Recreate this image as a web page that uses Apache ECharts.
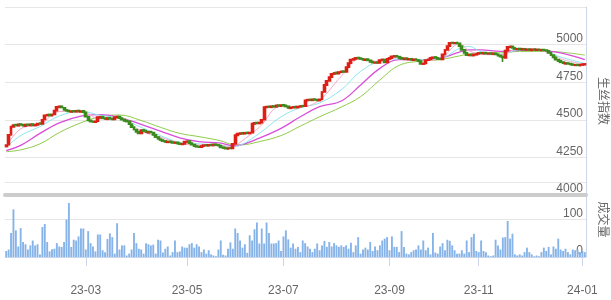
<!DOCTYPE html>
<html><head><meta charset="utf-8">
<script src="https://cdn.jsdelivr.net/npm/echarts/dist/echarts.min.js"></script>
<style>html,body{margin:0;padding:0;background:#fff}#c{width:611px;height:300px}</style>
</head><body><div id="c"></div>
<script>
// trading days per month
const tradingMonths = ['2023-01','2023-02','2023-03','2023-04','2023-05','2023-06','2023-07','2023-08','2023-09','2023-10','2023-11','2023-12','2024-01'];
const tradingDayLists = [
 '6 9 10 11 12 13 16 17 18 19 20 30 31',
 '1 2 3 6 7 8 9 10 13 14 15 16 17 20 21 22 23 24 27 28',
 '1 2 3 6 7 8 9 10 13 14 15 16 17 20 21 22 23 24 27 28 29 30 31',
 '3 4 6 7 10 11 12 13 14 17 18 19 20 21 24 25 26 27 28',
 '4 5 8 9 10 11 12 15 16 17 18 19 22 23 24 25 26 29 30 31',
 '1 2 5 6 7 8 9 12 13 14 15 16 19 20 21 26 27 28 29 30',
 '3 4 5 6 7 10 11 12 13 14 17 18 19 20 21 24 25 26 27 28 31',
 '1 2 3 4 7 8 9 10 11 14 15 16 17 18 21 22 23 24 25 28 29 30 31',
 '1 4 5 6 7 8 11 12 13 14 15 18 19 20 21 22 25 26 27 28',
 '9 10 11 12 13 16 17 18 19 20 23 24 25 26 27 30 31',
 '1 2 3 6 7 8 9 10 13 14 15 16 17 20 21 22 23 24 27 28 29 30',
 '1 4 5 6 7 8 11 12 13 14 15 18 19 20 21 22 25 26 27 28 29',
 '2 3'
];
const categories = [];
tradingMonths.forEach((m, k) => tradingDayLists[k].split(' ').forEach(d => categories.push(m + '-' + (d.length < 2 ? '0' + d : d))));

const opens = [
4322,4335,4400,4452,4468,4460,4472,4468,4458,4470,
4463,4472,4462,4466,4478,4472,4502,4528,4536,4527,
4535,4560,4583,4590,4580,4566,4562,4552,4560,4553,
4562,4552,4560,4550,4520,4496,4490,4484,4490,4512,
4522,4512,4503,4514,4508,4502,4515,4522,4512,4502,
4494,4490,4470,4452,4436,4422,4410,4433,4428,4414,
4422,4416,4400,4386,4372,4366,4360,4350,4357,4352,
4345,4350,4344,4336,4340,4352,4358,4346,4336,4326,
4322,4318,4325,4334,4327,4336,4329,4338,4333,4328,
4318,4313,4306,4314,4310,4340,4396,4405,4414,4407,
4416,4409,4415,4472,4482,4475,4480,4500,4582,4590,
4583,4592,4586,4598,4590,4600,4596,4590,4576,4580,
4588,4581,4586,4594,4590,4628,4636,4629,4638,4634,
4628,4636,4685,4730,4758,4784,4804,4815,4806,4816,
4824,4818,4850,4876,4898,4904,4914,4910,4906,4896,
4904,4896,4886,4878,4884,4878,4896,4900,4882,4904,
4910,4920,4926,4920,4912,4902,4910,4900,4906,4896,
4904,4898,4890,4870,4874,4896,4902,4910,4918,4912,
4906,4902,4934,4964,4990,5014,5008,5014,5008,4990,
4965,4946,4928,4934,4927,4932,4938,4946,4940,4947,
4938,4944,4936,4942,4936,4928,4922,4912,4960,4982,
4988,4978,4968,4974,4966,4972,4964,4970,4962,4970,
4963,4969,4962,4967,4964,4958,4946,4930,4916,4900,
4892,4884,4872,4878,4874,4870,4862,4867,4860,4864,
4866];
const closes = [
4332,4400,4455,4465,4462,4470,4466,4460,4468,4465,
4470,4463,4468,4475,4472,4500,4530,4534,4528,4535,
4562,4586,4590,4582,4565,4560,4555,4558,4554,4560,
4556,4558,4550,4520,4495,4488,4485,4490,4518,4520,
4510,4505,4512,4506,4502,4518,4522,4510,4500,4492,
4488,4470,4450,4435,4420,4410,4432,4425,4418,4420,
4415,4400,4385,4372,4365,4358,4352,4355,4350,4346,
4350,4342,4338,4340,4356,4358,4345,4335,4325,4320,
4318,4326,4332,4328,4334,4330,4336,4332,4328,4316,
4312,4308,4312,4310,4340,4398,4408,4412,4408,4414,
4410,4415,4475,4480,4476,4482,4500,4585,4588,4584,
4590,4586,4596,4592,4598,4594,4588,4578,4582,4586,
4582,4588,4592,4590,4630,4634,4630,4636,4632,4628,
4636,4685,4732,4760,4785,4806,4812,4808,4818,4822,
4818,4850,4878,4900,4905,4912,4908,4904,4898,4902,
4895,4885,4880,4882,4878,4898,4902,4882,4905,4912,
4922,4925,4920,4910,4905,4908,4902,4905,4898,4902,
4898,4890,4872,4875,4898,4902,4912,4916,4912,4904,
4902,4935,4965,4990,5012,5010,5012,5008,4990,4965,
4945,4930,4933,4928,4934,4938,4945,4942,4946,4940,
4942,4938,4942,4935,4926,4920,4915,4960,4985,4988,
4978,4970,4972,4968,4972,4966,4968,4964,4968,4965,
4968,4964,4966,4962,4958,4945,4930,4915,4900,4890,
4882,4876,4878,4872,4868,4864,4866,4862,4866,4870,
4872];
// visible wicks: [index, low, high]; other bars show no wick beyond the body
const wicks = [[206, 4885, 4922], [1, 4330, 4402], [184, 4988, 5016]];

const volumes = [
16,20,64,127,71,28,77,40,34,20,
31,44,31,34,7,80,88,40,15,21,
22,37,28,27,40,100,144,27,46,44,
55,76,76,20,69,37,28,15,60,60,
18,13,48,63,53,9,90,20,31,31,
4,9,20,64,37,22,20,9,37,34,
31,33,9,46,44,12,22,28,4,13,
44,13,15,28,25,25,34,37,25,34,
28,13,20,9,18,7,4,2,20,44,
6,4,22,39,22,76,64,44,25,34,
11,58,44,74,92,36,76,36,92,64,
36,36,37,44,16,55,71,47,25,36,
22,27,13,44,37,28,22,13,22,36,
18,31,43,27,40,28,37,31,27,31,
27,31,22,38,13,31,53,9,20,25,
20,40,16,28,18,31,44,49,53,18,
55,27,27,13,69,27,9,7,13,18,
20,31,20,44,18,25,7,64,12,9,
28,37,18,46,43,31,18,9,9,18,
9,44,13,53,62,16,13,44,16,13,
4,2,4,46,31,20,52,53,96,49,
62,7,4,7,4,13,25,13,7,2,
4,2,13,25,16,27,7,28,22,49,
20,16,22,13,7,20,18,20,13,16,
13];

// moving-average lines at these category positions
const maPositions = [0,6,14,22,31,39,47,56,64,72,80,89,94,97,105,114,122,130,139,147,155,163,172,180,188,192,197,205,213,221,230,240];
const ma5  = [4320,4440,4468,4555,4557,4505,4512,4425,4385,4345,4332,4328,4318,4350,4450,4590,4586,4632,4790,4905,4888,4918,4893,4908,5005,4960,4935,4932,4975,4966,4905,4868];
const ma10 = [4318,4395,4455,4525,4556,4530,4510,4450,4395,4350,4340,4330,4322,4330,4410,4520,4580,4612,4700,4822,4890,4905,4900,4908,4975,4988,4953,4935,4965,4965,4917,4875];
const ma20 = [4295,4330,4410,4480,4525,4535,4515,4470,4425,4380,4355,4345,4328,4332,4378,4443,4520,4587,4625,4731,4842,4900,4900,4910,4950,4965,4965,4955,4962,4962,4945,4900];
const ma30 = [4288,4300,4340,4415,4480,4520,4532,4495,4450,4410,4388,4360,4335,4333,4355,4395,4458,4520,4585,4654,4765,4862,4890,4900,4925,4938,4945,4945,4955,4955,4950,4930];

const priceTicks = {min: 4000, max: 5250, interval: 250};
const volTicks = {min: 0, max: 200, interval: 100};

const wickMap = {};
wicks.forEach(w => wickMap[w[0]] = w);
const kData = opens.map((o, i) => {
  const c = closes[i];
  const w = wickMap[i];
  return [o, c, w ? w[1] : Math.min(o, c), w ? w[2] : Math.max(o, c)];
});
const maLine = arr => maPositions.map((p, k) => [p, arr[k]]);

const isMajor = i => {
  if (i === 0) return false;
  const m = categories[i].slice(5, 7), pm = categories[i - 1].slice(5, 7);
  return m !== pm && parseInt(m, 10) % 2 === 1;
};

const FONT = "'Liberation Sans', Arial, 'Noto Sans CJK SC', sans-serif";
const AXIS_COLOR = '#ccd6eb';
const GRID_COLOR = '#e6e6e6';
const TEXT_COLOR = '#666666';

const chart = echarts.init(document.getElementById('c'), null, {renderer: 'canvas'});
const lineS = (name, data, color, width) => ({
  name, type: 'line', data, xAxisIndex: 0, yAxisIndex: 0, smooth: 0.4, connectNulls: true,
  symbol: 'none', lineStyle: {color, width}, z: 2, silent: true
});
const yLabel = {inside: true, margin: 3, color: TEXT_COLOR, fontSize: 12, fontFamily: FONT, verticalAlign: 'bottom',
                showMaxLabel: false, showMinLabel: true, formatter: v => String(v)};
chart.setOption({
  animation: false,
  backgroundColor: '#ffffff',
  textStyle: {fontFamily: FONT},
  grid: [
    {left: 5, right: 25, top: 7, height: 188, outerBoundsMode: 'none', containLabel: false},
    {left: 5, right: 25, top: 182, height: 75, outerBoundsMode: 'none', containLabel: false}
  ],
  xAxis: [
    {type: 'category', gridIndex: 0, data: categories, boundaryGap: true,
     axisLine: {show: true, lineStyle: {color: '#cccccc', width: 4}},
     axisTick: {show: false}, axisLabel: {show: false}, splitLine: {show: false}, z: 5},
    {type: 'category', gridIndex: 1, data: categories, boundaryGap: true, offset: 18,
     axisLine: {show: true, lineStyle: {color: AXIS_COLOR, width: 1}},
     axisTick: {show: true, alignWithLabel: true, length: 9, interval: i => isMajor(i), lineStyle: {color: AXIS_COLOR}},
     axisLabel: {show: true, interval: i => isMajor(i), formatter: v => v.slice(2, 7), color: TEXT_COLOR,
                 fontSize: 12, fontFamily: FONT, margin: 10, hideOverlap: false},
     splitLine: {show: false}}
  ],
  yAxis: [
    {type: 'value', gridIndex: 0, position: 'right', min: priceTicks.min, max: priceTicks.max, interval: priceTicks.interval,
     axisLine: {show: true, lineStyle: {color: AXIS_COLOR}}, axisTick: {show: false},
     axisLabel: yLabel,
     splitLine: {show: true, lineStyle: {color: GRID_COLOR}},
     name: '生丝指数', nameLocation: 'middle', nameRotate: -90, nameGap: 12,
     nameTextStyle: {color: TEXT_COLOR, fontSize: 12, fontFamily: "'Noto Sans CJK SC', sans-serif"}},
    {type: 'value', gridIndex: 1, position: 'right', min: volTicks.min, max: volTicks.max, interval: volTicks.interval,
     axisLine: {show: true, lineStyle: {color: AXIS_COLOR}}, axisTick: {show: false},
     axisLabel: yLabel,
     splitLine: {show: true, lineStyle: {color: GRID_COLOR}},
     name: '成交量', nameLocation: 'middle', nameRotate: -90, nameGap: 12,
     nameTextStyle: {color: TEXT_COLOR, fontSize: 12, fontFamily: "'Noto Sans CJK SC', sans-serif"}}
  ],
  series: [
    lineS('MA30', maLine(ma30), '#8fcc4a', 1),
    lineS('MA20', maLine(ma20), '#d94fd9', 1.3),
    lineS('MA10', maLine(ma10), '#8ee6f0', 1),
    lineS('MA5', maLine(ma5), '#f5a9cc', 1),
    {name: '生丝指数', type: 'candlestick', data: kData, xAxisIndex: 0, yAxisIndex: 0, barWidth: '100%', z: 3,
     itemStyle: {color: '#dd1f16', color0: '#3a8a1c', borderColor: '#dd1f16', borderColor0: '#3a8a1c', borderWidth: 1.6}},
    {name: '成交量', type: 'bar', data: volumes, xAxisIndex: 1, yAxisIndex: 1, barWidth: '78%',
     itemStyle: {color: '#86b3e8'}}
  ]
});
</script></body></html>
